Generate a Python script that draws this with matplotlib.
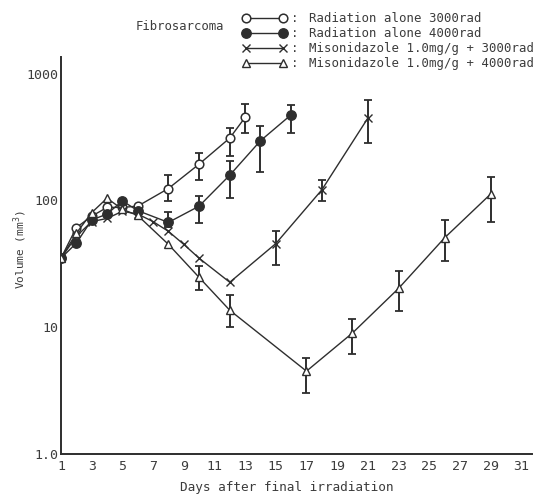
import numpy as np
import matplotlib
matplotlib.use('Agg')
import matplotlib.pyplot as plt
from matplotlib.lines import Line2D
from matplotlib.ticker import NullLocator

# Radiation alone 3000rad (open circles)
days_o = [1, 2, 3, 4, 5, 6, 8, 10, 12, 13]
vol_o = [35, 61, 75, 88, 88, 90, 124, 193, 310, 451]
err_days_o = [8, 10, 12, 13]
err_lo_o = [98, 146, 222, 338]
err_hi_o = [158, 238, 372, 573]

# Radiation alone 4000rad (filled circles)
days_f = [1, 2, 3, 4, 5, 6, 8, 10, 12, 14, 16]
vol_f = [35, 46, 70, 78, 99, 83, 67, 90, 158, 295, 473]
err_days_f = [8, 10, 12, 14, 16]
err_lo_f = [62, 66, 105, 166, 338]
err_hi_f = [81, 109, 203, 389, 568]

# Misonidazole 1.0mg/g + 3000rad (x)
days_x = [1, 2, 3, 4, 5, 6, 7, 8, 9, 10, 12, 15, 18, 21]
vol_x = [35, 52, 68, 72, 82, 78, 68, 57, 45, 35, 22.6, 45.6, 121, 445]
err_days_x = [15, 18, 21]
err_lo_x = [30.8, 98, 284]
err_hi_x = [57, 146, 622]

# Misonidazole 1.0mg/g + 4000rad (triangles)
days_t = [1, 2, 3, 4, 5, 6, 8, 10, 12, 17, 20, 23, 26, 29]
vol_t = [35, 55, 80, 104, 85, 76, 45, 24.7, 13.6, 4.5, 9.0, 20.2, 50.6, 112]
err_days_t = [10, 12, 17, 20, 23, 26, 29]
err_lo_t = [19.8, 10.0, 3.0, 6.2, 13.4, 33.4, 67]
err_hi_t = [30.3, 17.9, 5.7, 11.5, 27.6, 70.5, 152]

legend_labels = ['Radiation alone 3000rad',
                 'Radiation alone 4000rad',
                 'Misonidazole 1.0mg/g + 3000rad',
                 'Misonidazole 1.0mg/g + 4000rad']
x_ticks = list(range(1, 32, 2))
y_ticks = [1, 10, 100, 1000]
y_ticklabels = ['1.0', '10', '100', '1000']

W, H = 545, 495
ink = '#2e2e2e'
txt = '#3c3c3c'
font = 'DejaVu Sans Mono'


def px(x, y):
    # pixel position (from top-left) -> figure fraction
    return x / W, 1 - y / H


def main():
    plt.rcParams['font.family'] = font
    fig = plt.figure(figsize=(W / 100, H / 100), dpi=100)
    fig.patch.set_facecolor('white')
    ax = fig.add_axes([61 / W, 1 - 454 / H, 471 / W, 397 / H])
    ax.set_yscale('log')
    ax.set_xlim(1, 31.7)
    ax.set_ylim(1.0, 1350)

    styles = [
        dict(marker='o', mfc='white', mec=ink, ms=6.2, mew=1.1),
        dict(marker='o', mfc=ink, mec=ink, ms=6.8, mew=1.0),
        dict(marker='x', mfc='none', mec=ink, ms=6, mew=1.0),
        dict(marker='^', mfc='white', mec=ink, ms=6.3, mew=1.0),
    ]
    series = [
        (days_o, vol_o, err_days_o, err_lo_o, err_hi_o),
        (days_f, vol_f, err_days_f, err_lo_f, err_hi_f),
        (days_x, vol_x, err_days_x, err_lo_x, err_hi_x),
        (days_t, vol_t, err_days_t, err_lo_t, err_hi_t),
    ]

    for (d, v, ed, lo, hi), st in zip(series, styles):
        lookup = dict(zip(d, v))
        mid = np.array([lookup[k] for k in ed])
        yerr = [mid - np.array(lo), np.array(hi) - mid]
        ax.errorbar(ed, mid, yerr=yerr, fmt='none', ecolor=ink,
                    elinewidth=1.4, capsize=2.8, capthick=1.3, zorder=2)
        ax.plot(d, v, color=ink, lw=1.0, zorder=3, **st)

    ax.set_xticks(x_ticks)
    ax.set_yticks(y_ticks)
    ax.set_yticklabels(y_ticklabels)
    ax.yaxis.set_minor_locator(NullLocator())
    ax.tick_params(axis='both', length=0, labelsize=9.5, colors=txt)
    ax.tick_params(axis='x', pad=4)
    ax.tick_params(axis='y', pad=2)
    for s in ['top', 'right']:
        ax.spines[s].set_visible(False)
    for s in ['left', 'bottom']:
        ax.spines[s].set_color(ink)
        ax.spines[s].set_linewidth(1.4)

    # axis titles
    fig.text(*px(287, 487), 'Days after final irradiation', ha='center',
             va='center', fontsize=9.2, color=txt)
    fig.text(*px(20, 250), 'Volume (mm$^3$)', ha='center', va='center',
             rotation=90, fontsize=8, color=txt)

    # legend drawn by hand
    fig.text(*px(136, 26), 'Fibrosarcoma', ha='left', va='center',
             fontsize=8.8, color=txt)
    rows = [18.3, 33.3, 48.3, 63.3]
    for yrow, st, lab in zip(rows, styles, legend_labels):
        x0, y0 = px(246, yrow)
        x1, _ = px(283, yrow)
        fig.add_artist(Line2D([x0, x1], [y0, y0], transform=fig.transFigure,
                              color=ink, lw=1.0, **st))
        fig.text(*px(295, yrow), ':', ha='center', va='center',
                 fontsize=9, color=txt)
        fig.text(*px(309, yrow), lab, ha='left', va='center',
                 fontsize=8.9, color=txt)

    fig.savefig('out.png', dpi=100, facecolor='white')


if __name__ == '__main__':
    main()
